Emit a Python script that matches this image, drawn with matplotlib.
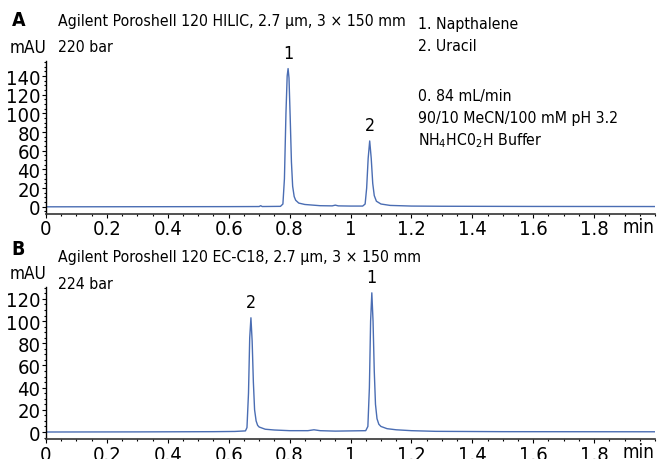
import matplotlib
matplotlib.use("Agg")
from matplotlib import pyplot as plt
from matplotlib.ticker import MultipleLocator, FixedLocator, FixedFormatter

plt.rcParams['font.family'] = ['DejaVu Sans']
plt.rcParams['font.stretch'] = 'condensed'
plt.rcParams['mathtext.fontset'] = 'custom'
plt.rcParams['mathtext.rm'] = 'DejaVu Sans:stretch=condensed'

# trace A (HILIC), time in min, signal in mAU
time_a = [0.0, 0.3, 0.6, 0.70, 0.705, 0.71, 0.77, 0.778, 0.783, 0.788, 0.792,
          0.795, 0.798, 0.802, 0.806, 0.81, 0.815, 0.82, 0.83, 0.85, 0.9,
          0.94, 0.95, 0.96, 1.0, 1.04, 1.048, 1.053, 1.058, 1.063, 1.068,
          1.073, 1.078, 1.085, 1.1, 1.13, 1.2, 1.3, 1.6, 2.0]
signal_a = [0.0, 0.1, 0.2, 0.3, 1.2, 0.3, 0.5, 3, 30, 100, 140,
            148, 138, 95, 48, 22, 11, 7, 4, 2.5, 1.2,
            1.0, 1.8, 1.0, 0.8, 0.8, 3, 20, 52, 70.5, 52,
            25, 12, 6, 3, 1.5, 0.8, 0.6, 0.4, 0.3]

# trace B (EC-C18)
time_b = [0.0, 0.3, 0.55, 0.62, 0.655, 0.66, 0.665, 0.669, 0.673, 0.677,
          0.681, 0.685, 0.69, 0.695, 0.70, 0.72, 0.75, 0.8, 0.86, 0.88,
          0.90, 0.95, 1.0, 1.05, 1.057, 1.062, 1.066, 1.070, 1.074, 1.078,
          1.082, 1.087, 1.093, 1.10, 1.12, 1.15, 1.2, 1.28, 1.5, 2.0]
signal_b = [0.0, 0.1, 0.3, 0.5, 1.0, 4, 35, 85, 103, 82,
            45, 20, 10, 6, 4.5, 2.5, 1.8, 1.2, 1.2, 2.0,
            1.2, 0.8, 1.0, 1.2, 5, 40, 100, 125.5, 100, 55,
            25, 12, 7, 5, 3, 2, 1.2, 0.6, 0.3, 0.2]

# peak labels: (time, height, text)
peaks_a = [(0.795, 148, "1"), (1.063, 70.5, "2")]
peaks_b = [(0.673, 103, "2"), (1.070, 125.5, "1")]

xticks = [0, 0.2, 0.4, 0.6, 0.8, 1.0, 1.2, 1.4, 1.6, 1.8]
xticklabels = ["0", "0.2", "0.4", "0.6", "0.8", "1", "1.2", "1.4", "1.6", "1.8"]
yticks_a = [0, 20, 40, 60, 80, 100, 120, 140]
yticks_b = [0, 20, 40, 60, 80, 100, 120]

line_color = "#4a6db3"
fs_tick = 14.5
fs_text = 11.3

fig = plt.figure(figsize=(6.57, 4.6), dpi=100)
ax_a = fig.add_axes([0.070, 0.533, 0.927, 0.332])
ax_b = fig.add_axes([0.070, 0.0435, 0.927, 0.331])


def style_axis(ax, yticks, ylim, peaks):
    ax.set_xlim(0, 2.0)
    ax.set_ylim(*ylim)
    for s in ["top", "right"]:
        ax.spines[s].set_visible(False)
    ax.spines["left"].set_linewidth(1.0)
    ax.spines["bottom"].set_linewidth(1.2)
    ax.spines["bottom"].set_color("#333333")
    ax.xaxis.set_major_locator(FixedLocator(xticks))
    ax.xaxis.set_major_formatter(FixedFormatter(xticklabels))
    ax.xaxis.set_minor_locator(MultipleLocator(0.05))
    ax.set_yticks(yticks)
    ax.yaxis.set_minor_locator(MultipleLocator(5))
    ax.tick_params(axis="both", which="major", labelsize=fs_tick, length=3, width=0.8, pad=1)
    ax.tick_params(axis="both", which="minor", length=1.5, width=0.8)
    ax.text(1.998, -0.02, "min", transform=ax.get_xaxis_transform(),
            ha="right", va="top", fontsize=fs_tick - 1)
    for t, h, lab in peaks:
        ax.annotate(lab, (t, h), xytext=(0, 5), textcoords="offset points",
                    ha="center", va="bottom", fontsize=fs_text + 1.5)


ax_a.plot(time_a, signal_a, color=line_color, lw=1.0)
style_axis(ax_a, yticks_a, (-7.5, 156), peaks_a)

ax_b.plot(time_b, signal_b, color=line_color, lw=1.0)
style_axis(ax_b, yticks_b, (-6.3, 131), peaks_b)

# header texts (figure coordinates)
fig.text(0.018, 0.955, "A", fontsize=14, fontweight="bold", va="center")
fig.text(0.088, 0.953, "Agilent Poroshell 120 HILIC, 2.7 µm, 3 × 150 mm", fontsize=fs_text, va="center")
fig.text(0.015, 0.895, "mAU", fontsize=fs_text + 1, va="center")
fig.text(0.088, 0.897, "220 bar", fontsize=fs_text, va="center")
fig.text(0.636, 0.947, "1. Napthalene", fontsize=fs_text, va="center")
fig.text(0.636, 0.899, "2. Uracil", fontsize=fs_text, va="center")
fig.text(0.636, 0.790, "0. 84 mL/min", fontsize=fs_text, va="center")
fig.text(0.636, 0.743, "90/10 MeCN/100 mM pH 3.2", fontsize=fs_text, va="center")
fig.text(0.636, 0.694, r"NH$_4$HC0$_2$H Buffer", fontsize=fs_text, va="center")

fig.text(0.018, 0.457, "B", fontsize=14, fontweight="bold", va="center")
fig.text(0.088, 0.440, "Agilent Poroshell 120 EC-C18, 2.7 µm, 3 × 150 mm", fontsize=fs_text, va="center")
fig.text(0.015, 0.405, "mAU", fontsize=fs_text + 1, va="center")
fig.text(0.088, 0.382, "224 bar", fontsize=fs_text, va="center")

fig.savefig("out.png", dpi=100)
